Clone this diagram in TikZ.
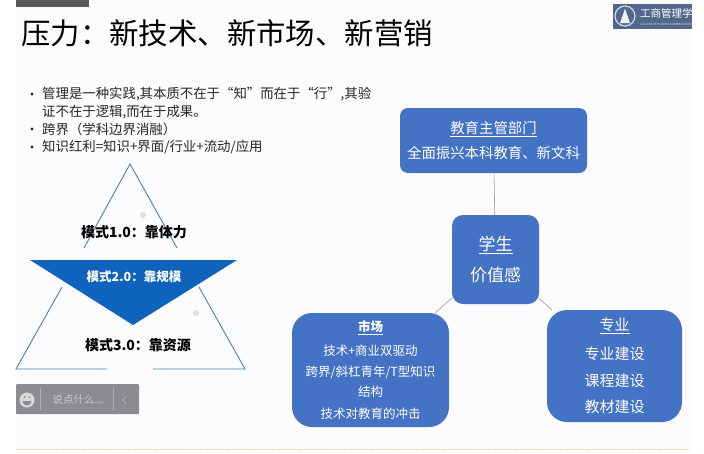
\documentclass[tikz,border=0pt]{standalone}
\usepackage{fontspec}
\setmainfont{Noto Sans CJK SC}
\usepackage{tikz}

\definecolor{boxblue}{HTML}{4472C4}
\definecolor{tribue}{HTML}{0F63BC}
\definecolor{triline}{HTML}{4A7FAE}
\definecolor{barback}{HTML}{8A8C8F}
\definecolor{logoback}{HTML}{51678C}

\newcommand{\fsz}[1]{\fontsize{#1}{#1}\selectfont}
\newcommand{\wcolon}{^^^^ff1a}
\newcommand{\wopen}{^^^^ff08}
\newcommand{\wclose}{^^^^ff09}

\begin{document}
\begin{tikzpicture}[x=1pt,y=-1pt,
    box/.style={fill=boxblue,text=white,align=center,inner sep=0pt},
    line/.style={anchor=west,inner sep=0pt,text=black!85,font=\fsz{13.4}},
    mode/.style={inner sep=0pt,font=\fsz{14}\bfseries},
    link/.style={draw=black!40,semithick},
    tri/.style={draw=triline,line width=0.9pt}]
        \useasboundingbox (0,0) rectangle (704,453);
        \fill[white] (0,0) rectangle (704,453);
        \fill[blue!1] (16,0) rectangle (691,449);
        \fill[black!65] (16,0) rectangle (89,7);

        % title and logo
        \node[anchor=west,inner sep=0pt,font=\fsz{29.4}] (title) at (21,33) {压力\wcolon 新技术、新市场、新营销};
        \node[fill=logoback,minimum width=79pt,minimum height=25pt,inner sep=0pt] (logo) at (652.5,16.5) {};
        \node[circle,draw=white!75!logoback,line width=1.2pt,minimum size=20pt,inner sep=0pt] (seal) at (625,16) {};
        \fill[white!90!logoback] (625,8.5) -- (620,23) -- (630,23) -- cycle;
        \node[anchor=west,text=white,inner sep=0pt,font=\fsz{10.5}] (logoname) at (640,13) {工商管理学};
        \node[anchor=west,text=white!80!logoback,inner sep=0pt,font=\fsz{2.9}] (logosub) at (640,24) {COLLEGE OF BUSINESS ADMINISTRATION};

        % bullets
        \node[line] (l1) at (42,94) {管理是一种实践,其本质不在于“知”而在于“行”,其验};
        \node[line] (l2) at (42,112) {证不在于逻辑,而在于成果。};
        \node[line] (l3) at (42,129) {跨界\wopen 学科边界消融\wclose};
        \node[line] (l4) at (42,147) {知识红利=知识+界面/行业+流动/应用};
        \foreach \y in {94,129,147} \fill[black!85] (32,\y) circle (1.6pt);

        % triangles
        \draw[tri] (84,248) -- (130,164) -- (177,248);
        \draw[tri] (62,287) -- (16,369) -- (107,369);
        \draw[tri] (199,287) -- (245,369) -- (153,369);
        \fill[tribue] (30,260) -- (237,260) -- (133,325) -- cycle;
        \fill[black!12] (143,215) circle (3pt);
        \fill[black!12] (196,313) circle (3pt);
        \node[mode] (m1) at (134,232) {模式1.0\wcolon 靠体力};
        \node[mode,text=white,font=\fsz{12.5}\bfseries] (m2) at (134,277) {模式2.0\wcolon 靠规模};
        \node[mode] (m3) at (138,345) {模式3.0\wcolon 靠资源};

        % chat bar
        \fill[barback,rounded corners=1pt] (16,384) rectangle (139,414);
        \fill[black!15] (27,400) circle (7.5pt);
        \fill[barback] (24.5,397) circle (1pt) (29.5,397) circle (1pt);
        \fill[barback] (22.5,401) arc[start angle=180,end angle=360,radius=4.5pt] -- cycle;
        \draw[black!30] (40,388) -- (40,410) (113,388) -- (113,410);
        \node[inner sep=0pt,text=black!20,font=\fsz{10.5}] (chat) at (78,400) {说点什么...};
        \draw[black!20] (126,396.5) -- (123,400) -- (126,403.5);

        % footer
        \draw[orange!45,densely dotted,thick] (16,449) -- (691,449);

        % boxes
        \node[box,rounded corners=8pt,minimum width=187pt,minimum height=65pt] (edu) at (493.5,140.5)
            {\fsz{14.4}\underline{教育主管部门}\\[9pt]\fsz{14.4}全面振兴本科教育、新文科};
        \node[box,rounded corners=11pt,minimum width=87pt,minimum height=89pt] (stu) at (495.5,259.5)
            {\fsz{17}\underline{学生}\\[12pt]\fsz{17}价值感};
        \node[box,rounded corners=20pt,minimum width=157pt,minimum height=114pt] (mkt) at (370.5,370)
            {\fsz{12.5}\bfseries\underline{市场}\\[10pt]\fsz{12.5}\mdseries 技术+商业双驱动\\[9pt]\fsz{12.5}\mdseries 跨界/斜杠青年/T型知识\\[6pt]\fsz{12.5}\mdseries 结构\\[10pt]\fsz{12.5}\mdseries 技术对教育的冲击};
        \node[box,rounded corners=20pt,minimum width=135pt,minimum height=112pt] (spec) at (614.5,366)
            {\fsz{15}\underline{专业}\\[12pt]\fsz{15}专业建设\\[12pt]\fsz{15}课程建设\\[12pt]\fsz{15}教材建设};

        \path[link] (edu) edge (stu)
                    (stu) edge (mkt)
                    (stu) edge (spec);
    \end{tikzpicture}
\end{document}
